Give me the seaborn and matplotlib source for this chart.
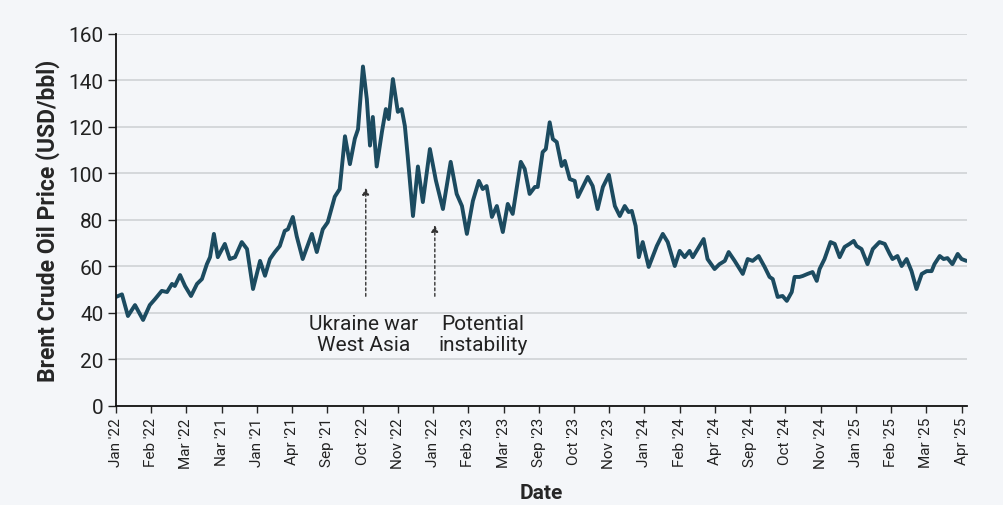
import seaborn as sns
import pandas as pd
import matplotlib.pyplot as plt

# Tick labels along the date axis (as printed on the chart)
tick_labels = ["Jan '22", "Feb '22", "Mar '22", "Nar '21", "Jan '21", "Apr '21", "Sep '21",
               "Oct '22", "Nov '22", "Jan '22", "Feb '23", "Mar '23", "Sep '23", "Oct '23",
               "Nov '23", "Jan '24", "Feb '24", "Apr '24", "Sep '24", "Oct '24", "Nov '24",
               "Jan '25", "Feb '25", "Mar '25", "Apr '25"]

# position along the date axis (in tick steps) and price (USD/bbl)
pos = [0.00, 0.17, 0.34, 0.54, 0.77, 0.96, 1.11, 1.30, 1.45, 1.59, 1.67, 1.82, 1.96, 2.13,
       2.30, 2.44, 2.58, 2.67, 2.78, 2.89, 3.09, 3.23, 3.38, 3.57, 3.72, 3.89, 4.09, 4.23,
       4.37, 4.51, 4.65, 4.79, 4.88, 5.02, 5.13, 5.30, 5.56, 5.70, 5.87, 6.01, 6.21, 6.35,
       6.50, 6.64, 6.78, 6.87, 7.01, 7.12, 7.21, 7.29, 7.40, 7.55, 7.66, 7.74, 7.86, 8.00,
       8.11, 8.20, 8.28, 8.43, 8.57, 8.71, 8.91, 9.08, 9.28, 9.50, 9.67, 9.82, 9.96, 10.13,
       10.30, 10.41, 10.52, 10.67, 10.81, 10.98, 11.12, 11.26, 11.49, 11.60, 11.74, 11.89,
       11.97, 12.11, 12.20, 12.31, 12.40, 12.51, 12.65, 12.74, 12.88, 13.02, 13.11, 13.25,
       13.39, 13.53, 13.67, 13.82, 13.99, 14.16, 14.30, 14.44, 14.55, 14.64, 14.75, 14.84,
       14.95, 15.12, 15.35, 15.52, 15.66, 15.86, 16.00, 16.14, 16.28, 16.37, 16.51, 16.68,
       16.79, 16.99, 17.13, 17.28, 17.39, 17.56, 17.79, 17.93, 18.07, 18.24, 18.41, 18.55,
       18.64, 18.78, 18.92, 19.04, 19.18, 19.26, 19.40, 19.49, 19.63, 19.77, 19.89, 19.97,
       20.11, 20.28, 20.40, 20.54, 20.68, 20.82, 20.94, 21.02, 21.16, 21.33, 21.48, 21.67,
       21.82, 21.96, 22.04, 22.18, 22.30, 22.44, 22.58, 22.72, 22.87, 23.01, 23.15, 23.23,
       23.38, 23.49, 23.60, 23.74, 23.89, 24.00, 24.14]

price = [46.9, 48.0, 38.7, 43.4, 37.0, 43.4, 46.0, 49.5, 49.0, 52.5, 51.6, 56.3, 51.6, 47.3,
         52.5, 54.6, 61.0, 64.0, 74.0, 64.0, 69.7, 63.2, 64.0, 70.5, 67.5, 50.3, 62.4, 56.0,
         63.2, 66.2, 68.8, 75.3, 76.0, 81.3, 73.0, 63.2, 74.0, 66.2, 76.0, 79.0, 90.0, 93.3,
         116.0, 104.0, 115.0, 119.0, 146.0, 132.0, 112.0, 124.3, 103.0, 118.0, 127.7, 123.4, 140.6, 126.5,
         127.7, 120.4, 107.5, 81.7, 103.0, 87.7, 110.5, 97.0, 84.7, 105.0, 91.2, 86.0, 74.0, 88.2,
         96.8, 93.3, 94.6, 81.3, 86.0, 74.8, 86.9, 82.6, 105.0, 102.0, 91.2, 94.2,
         94.2, 109.2, 110.5, 122.0, 114.8, 113.5, 103.2, 105.4, 97.6, 96.8, 89.9, 94.2,
         98.5, 94.6, 84.7, 94.2, 99.4, 86.0, 81.7, 86.0, 83.4, 83.9, 77.4, 64.0,
         70.5, 59.8, 68.8, 74.0, 70.5, 60.2, 66.7, 64.0, 66.7, 64.0, 67.5, 71.8,
         63.2, 58.9, 61.0, 62.4, 66.2, 62.4, 56.8, 63.2, 62.4, 64.5, 59.8, 55.5,
         54.6, 46.9, 47.3, 45.2, 49.0, 55.5, 55.5, 55.9, 56.8, 57.6, 53.8, 58.9,
         63.2, 70.5, 69.7, 64.0, 68.4, 69.7, 71.0, 68.8, 67.5, 61.0, 67.5, 70.5,
         69.7, 65.4, 63.2, 64.5, 60.2, 63.2, 58.0, 50.3, 56.8, 58.0, 58.0, 61.0,
         64.5, 63.2, 63.6, 61.0, 65.4, 63.2, 62.4]

df = pd.DataFrame({"pos": pos, "price": price})

bg = "#f4f6f9"
sns.set_style("white")
plt.rcParams['font.family'] = ['Roboto', 'DejaVu Sans']

fig = plt.figure(figsize=(10.04, 5.06), dpi=100, facecolor=bg)
ax = fig.add_axes([0.1155, 0.1957, 0.8475, 0.7352])
ax.set_facecolor(bg)

sns.lineplot(data=df, x="pos", y="price", ax=ax, color="#1c4b60", linewidth=2.8)

ax.set_xlim(0, 24.15)
ax.set_ylim(0, 160)
ax.set_yticks(range(0, 161, 20))
ax.set_xticks(range(len(tick_labels)))
ax.set_xticklabels(tick_labels, rotation=90, fontsize=11, color="#222222")
ax.tick_params(axis="y", labelsize=15, colors="#222222", length=6, width=1, direction="out",
               left=True, pad=3)
ax.tick_params(axis="x", length=5, width=1, direction="out", bottom=True, pad=3)
ax.yaxis.grid(True, color="#cfd2d6", linewidth=1.2)
ax.set_axisbelow(True)

for s in ["top", "right"]:
    ax.spines[s].set_visible(False)
for s in ["left", "bottom"]:
    ax.spines[s].set_color("#111111")
    ax.spines[s].set_linewidth(1.3)

ax.set_ylabel("Brent Crude Oil Price (USD/bbl)", fontsize=16.5, fontweight="bold", labelpad=6)
ax.set_xlabel("Date", fontsize=15, fontweight="bold", labelpad=11)

# annotations
arrow = dict(arrowstyle="-|>", color="#333333", linestyle=(0, (2, 2)), linewidth=1, mutation_scale=10)
ax.annotate("", xy=(7.09, 95), xytext=(7.09, 46), arrowprops=arrow)
ax.annotate("", xy=(9.05, 79), xytext=(9.05, 46), arrowprops=arrow)
ax.text(7.04, 31, "Ukraine war\nWest Asia", ha="center", va="center", fontsize=15,
        color="#222222", linespacing=1.1)
ax.text(10.41, 31, "Potential\ninstability", ha="center", va="center", fontsize=15,
        color="#222222", linespacing=1.1)

plt.savefig("out.png", dpi=100, facecolor=bg)
